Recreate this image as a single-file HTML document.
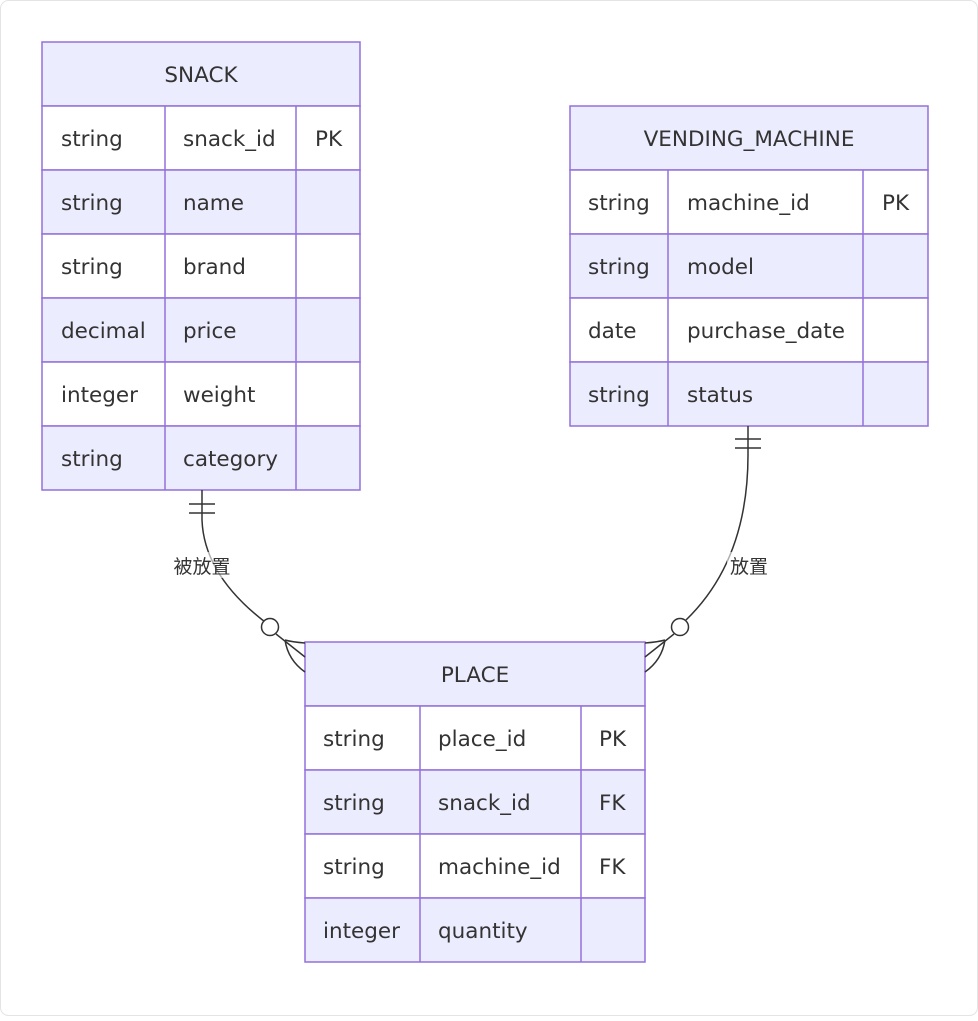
<!DOCTYPE html>
<html><head><meta charset="utf-8"><style>
html,body{margin:0;padding:0;background:#fff;}
svg text{font-family:"DejaVu Sans","Noto Sans CJK SC",sans-serif;fill:#333;font-size:21.5px;}
</style></head><body>
<svg width="978" height="1016" viewBox="0 0 978 1016" xmlns="http://www.w3.org/2000/svg">
<rect x="0.5" y="0.5" width="977" height="1015" rx="8" fill="#fff" stroke="#e4e4e4"/>
<!-- SNACK -->
<g stroke="#9370DB" stroke-width="1.5">
<rect x="42" y="42" width="318" height="64" fill="#ECECFF"/>
<rect x="42" y="106" width="318" height="64" fill="#fff"/>
<rect x="42" y="170" width="318" height="64" fill="#ECECFF"/>
<rect x="42" y="234" width="318" height="64" fill="#fff"/>
<rect x="42" y="298" width="318" height="64" fill="#ECECFF"/>
<rect x="42" y="362" width="318" height="64" fill="#fff"/>
<rect x="42" y="426" width="318" height="64" fill="#ECECFF"/>
<line x1="165" y1="106" x2="165" y2="490"/><line x1="296" y1="106" x2="296" y2="490"/>
</g>
<text x="201" y="82" text-anchor="middle">SNACK</text>
<text x="61" y="146">string</text><text x="183" y="146">snack_id</text><text x="315" y="146">PK</text>
<text x="61" y="210">string</text><text x="183" y="210">name</text>
<text x="61" y="274">string</text><text x="183" y="274">brand</text>
<text x="61" y="338">decimal</text><text x="183" y="338">price</text>
<text x="61" y="402">integer</text><text x="183" y="402">weight</text>
<text x="61" y="466">string</text><text x="183" y="466">category</text>
<!-- VENDING -->
<g stroke="#9370DB" stroke-width="1.5">
<rect x="570" y="106" width="358" height="64" fill="#ECECFF"/>
<rect x="570" y="170" width="358" height="64" fill="#fff"/>
<rect x="570" y="234" width="358" height="64" fill="#ECECFF"/>
<rect x="570" y="298" width="358" height="64" fill="#fff"/>
<rect x="570" y="362" width="358" height="64" fill="#ECECFF"/>
<line x1="668" y1="170" x2="668" y2="426"/><line x1="863" y1="170" x2="863" y2="426"/>
</g>
<text x="749" y="146" text-anchor="middle">VENDING_MACHINE</text>
<text x="588" y="210">string</text><text x="687" y="210">machine_id</text><text x="882" y="210">PK</text>
<text x="588" y="274">string</text><text x="687" y="274">model</text>
<text x="588" y="338">date</text><text x="687" y="338">purchase_date</text>
<text x="588" y="402">string</text><text x="687" y="402">status</text>
<!-- PLACE -->
<g stroke="#9370DB" stroke-width="1.5">
<rect x="305" y="642" width="340" height="64" fill="#ECECFF"/>
<rect x="305" y="706" width="340" height="64" fill="#fff"/>
<rect x="305" y="770" width="340" height="64" fill="#ECECFF"/>
<rect x="305" y="834" width="340" height="64" fill="#fff"/>
<rect x="305" y="898" width="340" height="64" fill="#ECECFF"/>
<line x1="420" y1="706" x2="420" y2="962"/><line x1="581" y1="706" x2="581" y2="962"/>
</g>
<text x="475" y="682" text-anchor="middle">PLACE</text>
<text x="323" y="746">string</text><text x="438" y="746">place_id</text><text x="599" y="746">PK</text>
<text x="323" y="810">string</text><text x="438" y="810">snack_id</text><text x="599" y="810">FK</text>
<text x="323" y="874">string</text><text x="438" y="874">machine_id</text><text x="599" y="874">FK</text>
<text x="323" y="938">integer</text><text x="438" y="938">quantity</text>
<!-- connectors -->
<g fill="none" stroke="#333" stroke-width="1.5">
<path d="M202,490 L202,520 Q204,575 265,622"/>
<line x1="189" y1="504" x2="215" y2="504"/><line x1="189" y1="513" x2="215" y2="513"/>
<line x1="276" y1="634" x2="305" y2="657"/>
<path d="M285,640 Q288,660 305,672"/><path d="M285,640 Q292,642 305,643"/>
<path d="M748,426 L748,455 Q748,560 686,620"/>
<line x1="735" y1="439" x2="761" y2="439"/><line x1="735" y1="448" x2="761" y2="448"/>
<line x1="674" y1="634" x2="645" y2="657"/>
<path d="M665,640 Q662,660 645,672"/><path d="M665,640 Q658,642 645,643"/>
</g>
<circle cx="270" cy="627" r="8.5" fill="#fff" stroke="#333" stroke-width="1.5"/>
<circle cx="680" cy="627" r="8.5" fill="#fff" stroke="#333" stroke-width="1.5"/>
<rect x="170" y="552" width="64" height="26" fill="#fff" opacity="0.6"/>
<text x="202" y="573" text-anchor="middle" style="font-size:19px">被放置</text>
<rect x="727" y="552" width="44" height="26" fill="#fff" opacity="0.6"/>
<text x="749" y="573" text-anchor="middle" style="font-size:19px">放置</text>
</svg>
</body></html>
